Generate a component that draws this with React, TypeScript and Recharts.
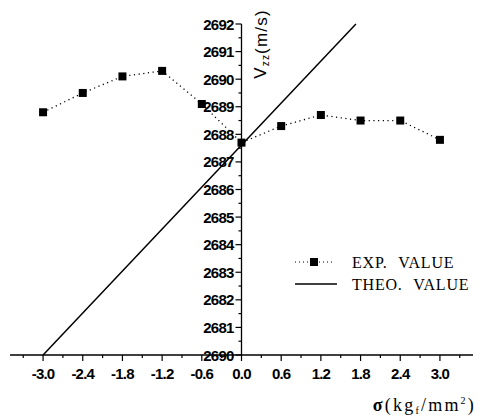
import React from 'react';
import { ComposedChart, Line, Scatter, XAxis, YAxis, ReferenceLine, Legend } from 'recharts';

const sigma = [-3.0, -2.4, -1.8, -1.2, -0.6, 0.0, 0.6, 1.2, 1.8, 2.4, 3.0];
const expValues = [2688.8, 2689.5, 2690.1, 2690.3, 2689.1, 2687.7, 2688.3, 2688.7, 2688.5, 2688.5, 2687.8];
const theoSigma = [-3.0, 1.73];
const theoValues = [2680, 2692];

const xMajorTicks = [-3.0, -2.4, -1.8, -1.2, -0.6, 0.0, 0.6, 1.2, 1.8, 2.4, 3.0];
const xMinorTicks = [-3.3, -2.7, -2.1, -1.5, -0.9, -0.3, 0.3, 0.9, 1.5, 2.1, 2.7, 3.3];
const yMajorTicks = [2680, 2681, 2682, 2683, 2684, 2685, 2686, 2687, 2688, 2689, 2690, 2691, 2692];
const yTickLabels = ['2690', '2681', '2682', '2683', '2684', '2685', '2686', '2687', '2688', '2689', '2690', '2691', '2692'];
const yMinorTicks = [2680.5, 2681.5, 2682.5, 2683.5, 2684.5, 2685.5, 2686.5, 2687.5, 2688.5, 2689.5, 2690.5, 2691.5];

const expData = sigma.map((x, i) => ({ x, y: expValues[i] }));
const theoData = theoSigma.map((x, i) => ({ x, y: theoValues[i] }));
const yMajorData = yMajorTicks.map((y, i) => ({ x: 0, y, label: yTickLabels[i] }));
const yMinorData = yMinorTicks.map((y) => ({ x: 0, y }));
const xAllTicks = [...xMajorTicks, ...xMinorTicks].sort((a, b) => a - b);

const tickFont = { fontFamily: '"Liberation Sans", Arial, sans-serif', fontWeight: 700, fontSize: 15, letterSpacing: -0.8 };
const serif = '"Liberation Serif", "Times New Roman", serif';

const XTick = (props: any) => {
  const { x, y, payload } = props;
  const v = payload.value;
  const major = xMajorTicks.some((t) => Math.abs(t - v) < 1e-6);
  return (
    <g>
      <line x1={x} x2={x} y1={y} y2={y + (major ? 6 : 3)} stroke="#000" strokeWidth={1.2} />
      {major && (
        <text x={x} y={y + 18} textAnchor="middle" dominantBaseline="central" fill="#000" {...tickFont}>
          {v.toFixed(1)}
        </text>
      )}
    </g>
  );
};

const YMajorShape = (props: any) => {
  const { cx, cy, payload } = props;
  return (
    <g>
      <line x1={cx - 6} x2={cx} y1={cy} y2={cy} stroke="#000" strokeWidth={1.2} />
      <text x={cx - 8} y={cy} textAnchor="end" dominantBaseline="central" fill="#000" {...tickFont}>
        {payload.label}
      </text>
    </g>
  );
};

const YMinorShape = (props: any) => {
  const { cx, cy } = props;
  return <line x1={cx - 3} x2={cx} y1={cy} y2={cy} stroke="#000" strokeWidth={1.2} />;
};

const SquareDot = (props: any) => {
  const { cx, cy } = props;
  if (cx == null || cy == null) return null;
  return <rect x={cx - 4} y={cy - 4} width={8} height={8} fill="#000" />;
};

const YTitle = (props: any) => {
  const { viewBox } = props;
  const x = viewBox.x + 19;
  const y = viewBox.y + 20;
  return (
    <text
      x={x}
      y={y}
      transform={`rotate(-90 ${x} ${y})`}
      textAnchor="middle"
      dominantBaseline="central"
      fill="#000"
      fontFamily='"Liberation Sans", Arial, sans-serif'
      fontSize={17}
      letterSpacing={1.2}
    >
      V<tspan fontSize={10} dy={4}>zz</tspan>
      <tspan dy={-4}>(m/s)</tspan>
    </text>
  );
};

const XTitle = (props: any) => {
  const { viewBox } = props;
  const x = viewBox.x + viewBox.width + 3;
  const y = viewBox.y + 56;
  return (
    <text x={x} y={y} textAnchor="end" fill="#000" fontFamily={serif} fontSize={18} letterSpacing={2.2}>
      <tspan fontWeight={700}>σ</tspan>(kg<tspan fontSize={10} dy={3}>f</tspan>
      <tspan dy={-3}>/mm</tspan>
      <tspan fontSize={10} dy={-7}>2</tspan>
      <tspan dy={7}>)</tspan>
    </text>
  );
};

const renderLegend = () => (
  <svg width={190} height={50} style={{ display: 'block' }}>
    <line x1={5} y1={12} x2={42} y2={12} stroke="#000" strokeWidth={1.2} strokeDasharray="1 3" />
    <rect x={20} y={8} width={8} height={8} fill="#000" />
    <text x={62} y={12} dominantBaseline="central" fill="#000" fontFamily={serif} fontSize={16} wordSpacing={6} letterSpacing={0.8}>
      EXP. VALUE
    </text>
    <line x1={5} y1={34} x2={47} y2={34} stroke="#000" strokeWidth={1.3} />
    <text x={62} y={34} dominantBaseline="central" fill="#000" fontFamily={serif} fontSize={16} wordSpacing={6} letterSpacing={0.8}>
      THEO. VALUE
    </text>
  </svg>
);

export default function App() {
  return (
    <div style={{ position: 'absolute', left: 0, top: 0, background: '#fff' }}>
      <ComposedChart width={484} height={419} margin={{ top: 24, right: 11, bottom: 34, left: 10 }}>
        <XAxis
          dataKey="x"
          type="number"
          domain={[-3.5, 3.5]}
          ticks={xAllTicks}
          interval={0}
          tick={<XTick />}
          tickLine={false}
          tickSize={0}
          tickMargin={0}
          axisLine={{ stroke: '#000', strokeWidth: 1.3 }}
          height={30}
          label={{ content: <XTitle /> }}
        />
        <YAxis dataKey="y" type="number" domain={[2680, 2692]} hide />
        <ReferenceLine x={0} stroke="#000" strokeWidth={1.3} label={{ content: <YTitle /> }} />
        <Scatter data={yMinorData} dataKey="y" shape={<YMinorShape />} isAnimationActive={false} legendType="none" />
        <Scatter data={yMajorData} dataKey="y" shape={<YMajorShape />} isAnimationActive={false} legendType="none" />
        <Line
          data={theoData}
          dataKey="y"
          name="THEO. VALUE"
          stroke="#000"
          strokeWidth={1.5}
          dot={false}
          type="linear"
          isAnimationActive={false}
        />
        <Line
          data={expData}
          dataKey="y"
          name="EXP. VALUE"
          stroke="#000"
          strokeWidth={1.3}
          strokeDasharray="1.2 3.5"
          dot={<SquareDot />}
          type="linear"
          isAnimationActive={false}
        />
        <Legend
          layout="vertical"
          align="center"
          verticalAlign="middle"
          content={renderLegend}
          wrapperStyle={{ position: 'absolute', left: 290, top: 250, width: 190, height: 50 }}
        />
      </ComposedChart>
    </div>
  );
}
